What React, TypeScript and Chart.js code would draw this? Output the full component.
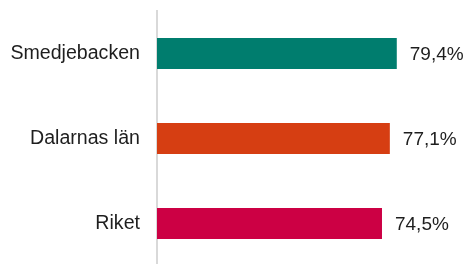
import React, { useEffect, useRef } from "react";
import { Chart, registerables } from "chart.js";

Chart.register(...registerables);

const categories = ["Smedjebacken", "Dalarnas län", "Riket"];
const values = [79.4, 77.1, 74.5];
const valueLabels = ["79,4%", "77,1%", "74,5%"];
const barColors = ["#007D6E", "#D63E12", "#CC0044"];

const FONT = "'Liberation Sans', Arial, sans-serif";

const valueLabelPlugin = {
  id: "valueLabels",
  afterDatasetsDraw(chart: any) {
    const ctx = chart.ctx;
    const meta = chart.getDatasetMeta(0);
    ctx.save();
    ctx.font = `19px ${FONT}`;
    ctx.fillStyle = "#1e1e1e";
    ctx.textAlign = "left";
    ctx.textBaseline = "middle";
    meta.data.forEach((bar: any, i: number) => {
      ctx.fillText(valueLabels[i], bar.x + 13, bar.y + 1);
    });
    ctx.restore();
  },
};

export default function App() {
  const ref = useRef<HTMLCanvasElement | null>(null);
  useEffect(() => {
    if (!ref.current) return;
    const chart = new Chart(ref.current, {
      type: "bar",
      data: {
        labels: categories,
        datasets: [
          {
            data: values,
            backgroundColor: barColors,
            categoryPercentage: 1,
            barPercentage: 31 / 85,
          },
        ],
      },
      options: {
        indexAxis: "y",
        animation: false,
        responsive: false,
        layout: { padding: { top: 11, right: 11, bottom: 4, left: 0 } },
        plugins: { legend: { display: false }, tooltip: { enabled: false } },
        scales: {
          x: { display: false, min: 0, max: 100 },
          y: {
            afterFit(scale: any) {
              scale.width = 157;
              scale.paddingTop = 0;
              scale.paddingBottom = 0;
            },
            grid: { display: false, drawTicks: false },
            border: { display: true, color: "#d9d9d9", width: 2 },
            ticks: {
              padding: 17,
              color: "#1e1e1e",
              font: { family: FONT, size: 19.6 },
            },
          },
        },
      },
      plugins: [valueLabelPlugin],
    });
    return () => chart.destroy();
  }, []);
  return (
    <div style={{ position: "fixed", left: 0, top: 0, width: 470, height: 264, overflow: "hidden", background: "#fff" }}>
      <canvas ref={ref} width={470} height={270} style={{ display: "block", width: 470, height: 270 }} />
    </div>
  );
}
